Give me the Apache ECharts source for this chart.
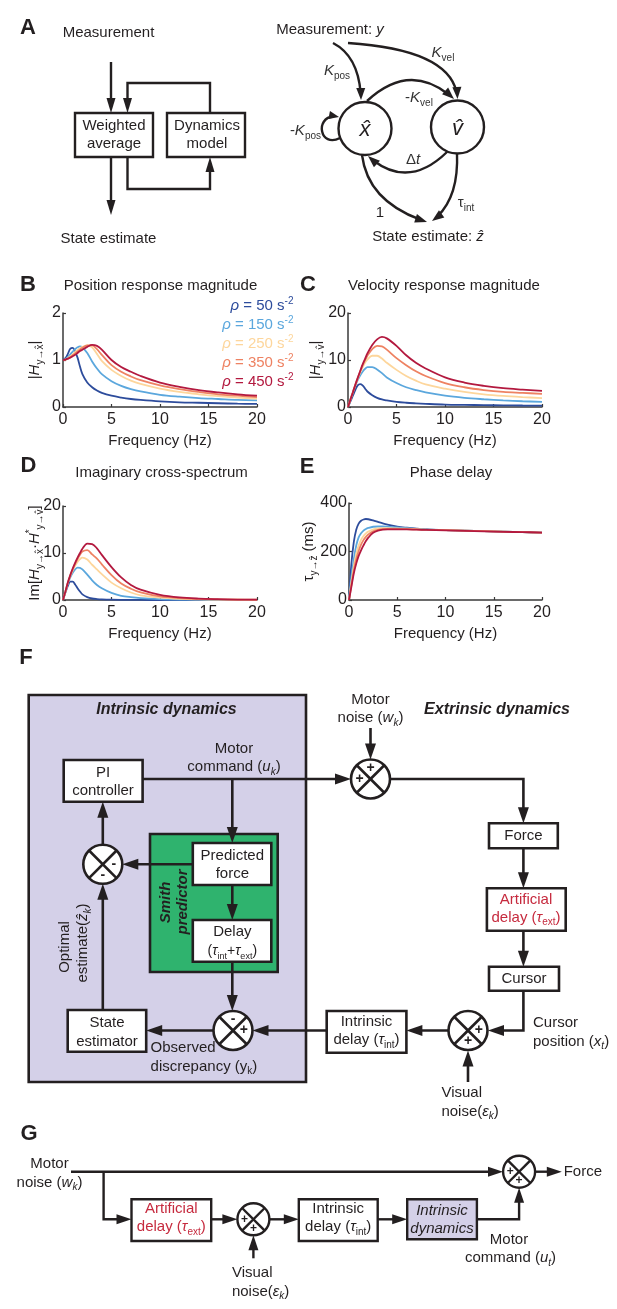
<!DOCTYPE html>
<html><head><meta charset="utf-8">
<script src="https://cdn.jsdelivr.net/npm/echarts@6/dist/echarts.min.js"></script>
<style>html,body{margin:0;padding:0;background:#fff}#c{width:617px;height:1309px}</style>
</head><body><div id="c"></div>
<script>
// ---------- data ----------
const freq = [0,0.25,0.5,0.75,1,1.25,1.5,1.75,2,2.5,3,3.5,4,5,6,7,8,10,12,14,16,18,20];
const rhoLabels = ['50','150','250','350','450'];
const lineColors = ['#2d4c9c','#5ba7dd','#fdd69c','#ee8262','#b3193f'];

const posMag = [
  [1.0,1.04,1.13,1.24,1.26,1.18,1.05,0.86,0.7,0.52,0.42,0.35,0.3,0.24,0.2,0.17,0.15,0.12,0.1,0.09,0.08,0.07,0.065],
  [1.0,1.02,1.06,1.12,1.18,1.23,1.27,1.29,1.27,1.15,0.97,0.82,0.7,0.55,0.45,0.38,0.33,0.26,0.22,0.19,0.17,0.15,0.14],
  [1.0,1.01,1.04,1.08,1.12,1.17,1.21,1.25,1.28,1.31,1.27,1.13,0.98,0.79,0.66,0.56,0.49,0.39,0.32,0.27,0.23,0.2,0.18],
  [1.0,1.01,1.03,1.06,1.1,1.14,1.18,1.22,1.26,1.31,1.31,1.23,1.11,0.89,0.75,0.65,0.57,0.46,0.38,0.32,0.27,0.24,0.21],
  [1.0,1.01,1.03,1.05,1.08,1.11,1.15,1.19,1.22,1.28,1.32,1.3,1.22,1.0,0.85,0.75,0.66,0.52,0.43,0.36,0.31,0.27,0.24]
];
const velMag = [
  [0,1.2,2.4,3.6,4.6,4.85,4.6,3.95,3.3,2.5,1.95,1.6,1.4,1.08,0.9,0.78,0.68,0.52,0.45,0.4,0.35,0.32,0.3],
  [0,1.55,3.1,4.5,5.7,6.7,7.5,8.1,8.5,8.5,8.0,7.2,6.3,5.1,4.2,3.6,3.1,2.4,1.95,1.65,1.4,1.22,1.1],
  [0,1.57,3.1,4.6,6.0,7.3,8.4,9.4,10.1,10.9,10.9,10.3,9.4,7.9,6.6,5.6,4.8,3.9,3.2,2.7,2.35,2.1,1.9],
  [0,1.57,3.1,4.7,6.1,7.5,8.8,9.9,10.9,12.3,13.0,12.9,12.2,10.4,8.9,7.6,6.6,5.1,4.2,3.6,3.2,3.0,2.8],
  [0,1.57,3.1,4.7,6.2,7.6,9.0,10.2,11.4,13.2,14.4,14.9,14.6,13.0,11.0,9.4,8.2,6.3,5.2,4.5,4.0,3.7,3.45]
];
const imagCross = [
  [0,1.6,3.0,3.9,3.9,3.3,2.5,1.8,1.2,0.6,0.32,0.2,0.13,0.06,0.03,0.02,0.01,0,0,0,0,0,0],
  [0,1.7,3.5,4.8,5.8,6.5,6.9,6.85,6.5,5.4,4.2,3.2,2.5,1.5,0.9,0.6,0.4,0.2,0.1,0.06,0.04,0.02,0.01],
  [0,1.7,3.6,5.1,6.3,7.3,8.1,8.7,9.0,8.6,7.5,6.5,5.5,3.7,2.5,1.6,1.0,0.5,0.25,0.14,0.08,0.05,0.03],
  [0,1.8,3.7,5.2,6.5,7.7,8.7,9.6,10.3,10.6,9.7,8.8,7.6,5.3,3.5,2.4,1.6,0.75,0.4,0.22,0.13,0.08,0.05],
  [0,1.8,3.7,5.3,6.7,7.9,9.0,10.0,10.9,12.0,11.9,11.0,9.6,7.0,4.8,3.2,2.2,1.1,0.55,0.3,0.18,0.1,0.06]
];
const phaseDelay = [
  [0,150,240,290,315,327,332,334,333,328,322,316,311,303,298,294,291,288,286,284,282,280,278],
  [0,95,170,225,258,275,286,293,297,302,303,303,302,299,296,293,291,288,286,284,282,280,278],
  [0,75,140,190,225,248,264,275,282,291,295,296,296,295,294,292,290,288,286,284,282,280,278],
  [0,62,122,168,202,228,247,260,270,283,289,292,293,293,292,291,290,288,286,284,282,280,278],
  [0,55,110,150,182,205,225,243,257,277,286,290,291,291,291,290,289,287,285,283,281,280,278]
];
const xTicks = {min:0, max:20, interval:5};
const yRanges = [{max:2, interval:1},{max:20, interval:10},{max:20, interval:10},{max:400, interval:200}];

// ---------- style helpers ----------
const FONT = 'Arial, "Liberation Sans", Helvetica, sans-serif';
const INK = '#231f20';
const RED = '#c62a3e';
const LAV = '#d4d0e8';
const GREEN = '#2fb36e';

function rs(size, color) {
  const sub = Math.round(size * 0.66);
  const base = {fontSize:size, fontFamily:FONT, color:color, fill:color, lineHeight:20};
  return {
    n: Object.assign({}, base),
    i: Object.assign({}, base, {fontStyle:'italic'}),
    s: {fontSize:sub, fontFamily:FONT, color:color, fill:color, verticalAlign:'bottom', lineHeight:10},
    si: {fontSize:sub, fontFamily:FONT, fontStyle:'italic', color:color, fill:color, verticalAlign:'bottom', lineHeight:10},
    p: {fontSize:sub, fontFamily:FONT, color:color, fill:color, verticalAlign:'top', lineHeight:10}
  };
}

const G = [];
function txt(x, y, text, o) {
  o = o || {};
  const size = o.size || 15, color = o.color || INK;
  G.push({type:'text', x:x, y:y, rotation:o.rot || 0, z:30, silent:true,
    style:{text:text, fill:color, fontSize:size, fontFamily:FONT,
      fontStyle:o.italic ? 'italic' : 'normal', fontWeight:o.bold ? 'bold' : 'normal',
      align:o.align || 'center', verticalAlign:'middle', lineHeight:20, rich:rs(size, color)}});
}
function poly(pts, w) {
  G.push({type:'polyline', shape:{points:pts}, z:10, silent:true,
    style:{stroke:INK, lineWidth:w, fill:null, lineJoin:'miter', lineCap:'butt'}});
}
function head(x, y, ang, L, W) {
  const bx = x - L * Math.cos(ang), by = y - L * Math.sin(ang);
  const px = -Math.sin(ang) * W / 2, py = Math.cos(ang) * W / 2;
  G.push({type:'polygon', z:11, silent:true, shape:{points:[[x, y],[bx + px, by + py],[bx - px, by - py]]}, style:{fill:INK}});
}
function arrow(pts, L, W, w) {
  const n = pts.length;
  const a = pts[n - 2], b = pts[n - 1];
  const ang = Math.atan2(b[1] - a[1], b[0] - a[0]);
  const p = pts.slice(0, n - 1).concat([[b[0] - L * 0.6 * Math.cos(ang), b[1] - L * 0.6 * Math.sin(ang)]]);
  poly(p, w);
  head(b[0], b[1], ang, L, W);
}
function lerp(p, q, t) { return [p[0] + (q[0] - p[0]) * t, p[1] + (q[1] - p[1]) * t]; }
function qArrow(p0, p1, p2, L, W, w, noHead) {
  if (noHead) {
    G.push({type:'bezierCurve', z:10, silent:true, shape:{x1:p0[0], y1:p0[1], x2:p2[0], y2:p2[1], cpx1:p1[0], cpy1:p1[1]}, style:{stroke:INK, lineWidth:w, fill:null}});
    return;
  }
  const d = Math.hypot(p2[0] - p1[0], p2[1] - p1[1]) * 2;
  const t = 1 - (L * 0.6) / d;
  const a = lerp(p0, p1, t), b = lerp(p1, p2, t), c = lerp(a, b, t);
  G.push({type:'bezierCurve', z:10, silent:true, shape:{x1:p0[0], y1:p0[1], x2:c[0], y2:c[1], cpx1:a[0], cpy1:a[1]}, style:{stroke:INK, lineWidth:w, fill:null}});
  head(p2[0], p2[1], Math.atan2(p2[1] - p1[1], p2[0] - p1[0]), L, W);
}
function cArrow(p0, p1, p2, p3, L, W, w) {
  const d = Math.hypot(p3[0] - p2[0], p3[1] - p2[1]) * 3;
  const t = 1 - (L * 0.6) / d;
  const a = lerp(p0, p1, t), b = lerp(p1, p2, t), c = lerp(p2, p3, t);
  const e = lerp(a, b, t), f = lerp(b, c, t), g = lerp(e, f, t);
  G.push({type:'bezierCurve', z:10, silent:true, shape:{x1:p0[0], y1:p0[1], x2:g[0], y2:g[1], cpx1:a[0], cpy1:a[1], cpx2:e[0], cpy2:e[1]}, style:{stroke:INK, lineWidth:w, fill:null}});
  head(p3[0], p3[1], Math.atan2(p3[1] - p2[1], p3[0] - p2[0]), L, W);
}
function box(x, y, w, h, fill, lw, z) {
  G.push({type:'rect', z:z || 15, silent:true, shape:{x:x, y:y, width:w, height:h}, style:{fill:fill || '#fff', stroke:INK, lineWidth:lw}});
}
function circ(cx, cy, r, lw) {
  G.push({type:'circle', z:15, silent:true, shape:{cx:cx, cy:cy, r:r}, style:{fill:'#fff', stroke:INK, lineWidth:lw}});
}
function sum(cx, cy, r, signs, lw, sz) {
  circ(cx, cy, r, lw);
  const d = r * 0.7071;
  G.push({type:'line', z:16, silent:true, shape:{x1:cx - d, y1:cy - d, x2:cx + d, y2:cy + d}, style:{stroke:INK, lineWidth:lw}});
  G.push({type:'line', z:16, silent:true, shape:{x1:cx - d, y1:cy + d, x2:cx + d, y2:cy - d}, style:{stroke:INK, lineWidth:lw}});
  const offs = {t:[0,-1], b:[0,1], l:[-1,0], r:[1,0]};
  signs.forEach(function (s) {
    const o = offs[s[0]];
    txt(cx + o[0] * r * 0.56, cy + o[1] * r * 0.56, s[1], {size:sz, bold:true});
  });
}

// ---------- panel letters & chart titles ----------
txt(28, 28, 'A', {size:22, bold:true});
txt(28, 285, 'B', {size:22, bold:true});
txt(308, 285, 'C', {size:22, bold:true});
txt(28.5, 466, 'D', {size:22, bold:true});
txt(307, 466.5, 'E', {size:22, bold:true});
txt(26, 657.5, 'F', {size:22, bold:true});
txt(29, 1134, 'G', {size:22, bold:true});
txt(160.5, 285.5, 'Position response magnitude');
txt(444, 285.5, 'Velocity response magnitude');
txt(161.5, 473, 'Imaginary cross-spectrum');
txt(451, 473, 'Phase delay');
rhoLabels.forEach(function (lab, k) {
  txt(293.5, 306 + k * 19, '{i|\u03c1} = ' + lab + ' s{p|-2}', {color:lineColors[k], align:'right'});
});

// ---------- panel A (left) ----------
const LA = 2.4;
txt(108.5, 33, 'Measurement');
arrow([[111, 62],[111, 113]], 15, 9, LA);
box(75, 113, 78, 44, '#fff', LA);
txt(114, 126, 'Weighted'); txt(114, 144, 'average');
box(167, 113, 78, 44, '#fff', LA);
txt(207, 126, 'Dynamics'); txt(207, 144, 'model');
arrow([[210, 113],[210, 83],[127.5, 83],[127.5, 113]], 15, 9, LA);
arrow([[127.5, 157],[127.5, 189],[210, 189],[210, 157]], 15, 9, LA);
arrow([[111, 157],[111, 215]], 15, 9, LA);
txt(108.5, 239, 'State estimate');

// ---------- panel A (right) ----------
txt(330, 30, 'Measurement: {i|y}');
circ(365, 128.5, 26.5, LA);
circ(457.5, 127, 26.5, LA);
txt(365, 130, 'x\u0302', {size:22, italic:true});
txt(457.5, 128.5, 'v\u0302', {size:22, italic:true});
qArrow([333, 43],[360, 57],[361, 100], 12, 9, LA);
qArrow([348, 43],[455, 50],[457.5, 99], 12, 9, LA);
qArrow([367, 101],[411, 60],[454, 99], 12, 9, LA);
qArrow([447, 152],[407, 191],[368, 156], 12, 9, LA);
cArrow([340, 138],[318, 149],[314, 112],[339, 117], 10, 8, LA);
qArrow([362, 155],[368, 203],[427, 222], 12, 9, LA);
qArrow([457, 153],[459, 201],[432, 221], 12, 9, LA);
txt(337, 71, '{i|K}{s|pos}', {color:'#333'});
txt(443, 53, '{i|K}{s|vel}', {color:'#333'});
txt(419, 98, '-{i|K}{s|vel}', {color:'#333'});
txt(413, 160, '\u0394{i|t}', {color:'#333'});
txt(321, 131, '-{i|K}{s|pos}', {color:'#333', align:'right'});
txt(380, 213, '1');
txt(466, 203, '\u03c4{s|int}', {color:'#333'});
txt(428, 237, 'State estimate: {i|\u1e91}');

// ---------- panel F ----------
const LF = 2.6, AFL = 16, AFW = 11;
box(28.7, 695, 277.3, 387, LAV, LF, 1);
box(150, 834, 127.7, 138, GREEN, LF, 2);
txt(166.5, 710, 'Intrinsic dynamics', {size:16, bold:true, italic:true});
txt(497, 710, 'Extrinsic dynamics', {size:16, bold:true, italic:true});
txt(370.5, 700, 'Motor'); txt(370.5, 718, 'noise ({i|w}{si|k})');
arrow([[370.5, 728],[370.5, 759.5]], AFL, AFW, LF);
sum(370.5, 779, 19.5, [['t','+'],['l','+']], LF, 14);
box(63.7, 760, 78.9, 41.7, '#fff', LF);
txt(103, 772.5, 'PI'); txt(103, 790.5, 'controller');
arrow([[142.6, 779],[351, 779]], AFL, AFW, LF);
txt(234, 749, 'Motor'); txt(234, 767, 'command ({i|u}{si|k})');
arrow([[390, 779],[523.4, 779],[523.4, 823.3]], AFL, AFW, LF);
box(489, 823.3, 68.8, 25, '#fff', LF);
txt(523.4, 836, 'Force');
arrow([[523.4, 848.3],[523.4, 888.3]], AFL, AFW, LF);
box(486.9, 888.3, 78.8, 42.4, '#fff', LF);
txt(526, 899.5, 'Artificial', {color:RED}); txt(526, 917.5, 'delay ({i|\u03c4}{s|ext})', {color:RED});
arrow([[523.4, 930.7],[523.4, 966.7]], AFL, AFW, LF);
box(489, 966.7, 70, 24, '#fff', LF);
txt(524, 979, 'Cursor');
arrow([[523.4, 990.7],[523.4, 1030.5],[488, 1030.5]], AFL, AFW, LF);
sum(468, 1030.5, 19.5, [['r','+'],['b','+']], LF, 14);
arrow([[468, 1082],[468, 1050.5]], AFL, AFW, LF);
txt(441.4, 1093.3, 'Visual', {align:'left'}); txt(441.4, 1111.7, 'noise({i|\u03b5}{si|k})', {align:'left'});
txt(533, 1023.3, 'Cursor', {align:'left'}); txt(533, 1041.7, 'position ({i|x}{si|t})', {align:'left'});
arrow([[448.5, 1030.5],[406.4, 1030.5]], AFL, AFW, LF);
box(326.7, 1011, 79.7, 41.7, '#fff', LF);
txt(366.5, 1021.7, 'Intrinsic'); txt(366.5, 1040, 'delay ({i|\u03c4}{s|int})');
arrow([[326.7, 1030.5],[252.5, 1030.5]], AFL, AFW, LF);
sum(233, 1030.5, 19.5, [['t','-'],['r','+']], LF, 14);
arrow([[213.5, 1030.5],[146.2, 1030.5]], AFL, AFW, LF);
box(67.7, 1010, 78.5, 41.7, '#fff', LF);
txt(107, 1023, 'State'); txt(107, 1041.5, 'estimator');
txt(150.6, 1048.3, 'Observed', {align:'left'}); txt(150.6, 1066.7, 'discrepancy (y{s|k})', {align:'left'});
txt(166, 902.5, 'Smith', {bold:true, italic:true, rot:Math.PI / 2});
txt(182.5, 902, 'predictor', {bold:true, italic:true, rot:Math.PI / 2});
arrow([[232.3, 779],[232.3, 843]], AFL, AFW, LF);
box(192.8, 843, 78.5, 42, '#fff', LF);
txt(232.3, 856, 'Predicted'); txt(232.3, 874, 'force');
arrow([[232.3, 885],[232.3, 920]], AFL, AFW, LF);
box(192.8, 920, 78.5, 41.7, '#fff', LF);
txt(232.3, 932.3, 'Delay'); txt(232.3, 951, '({i|\u03c4}{s|int}+{i|\u03c4}{s|ext})', {size:14});
arrow([[232.3, 961.7],[232.3, 1011]], AFL, AFW, LF);
sum(102.8, 864.3, 19.5, [['r','-'],['b','-']], LF, 14);
arrow([[192.8, 864.3],[122.3, 864.3]], AFL, AFW, LF);
arrow([[102.8, 844.8],[102.8, 801.7]], AFL, AFW, LF);
arrow([[102.8, 1010],[102.8, 883.8]], AFL, AFW, LF);
txt(64.5, 947, 'Optimal', {rot:Math.PI / 2});
txt(83, 943, 'estimate({i|\u1e91}{si|k})', {rot:Math.PI / 2});

// ---------- panel G ----------
const LG = 2.4, AGL = 15, AGW = 10;
txt(49.5, 1164, 'Motor'); txt(49.5, 1182.7, 'noise ({i|w}{si|k})');
arrow([[71, 1171.7],[503, 1171.7]], AGL, AGW, LG);
arrow([[103.6, 1171.7],[103.6, 1219.3],[131.5, 1219.3]], AGL, AGW, LG);
box(131.5, 1199.3, 79.7, 41.7, '#fff', LG);
txt(171.3, 1209.3, 'Artificial', {color:RED}); txt(171.3, 1227.3, 'delay ({i|\u03c4}{s|ext})', {color:RED});
arrow([[211.2, 1219.3],[237.4, 1219.3]], AGL, AGW, LG);
sum(253.4, 1219.3, 16, [['l','+'],['b','+']], LG, 12);
arrow([[253.4, 1258.3],[253.4, 1235.3]], AGL, AGW, LG);
txt(231.9, 1272.7, 'Visual', {align:'left'}); txt(231.9, 1291.7, 'noise({i|\u03b5}{si|k})', {align:'left'});
arrow([[269.4, 1219.3],[298.8, 1219.3]], AGL, AGW, LG);
box(298.8, 1199.3, 78.9, 41.7, '#fff', LG);
txt(338.2, 1209.3, 'Intrinsic'); txt(338.2, 1227.3, 'delay ({i|\u03c4}{s|int})');
arrow([[377.7, 1219.3],[407.2, 1219.3]], AGL, AGW, LG);
box(407.2, 1199.3, 69.7, 40, LAV, LG);
txt(442, 1210.7, 'Intrinsic', {italic:true}); txt(442, 1229.3, 'dynamics', {italic:true});
arrow([[476.9, 1219.3],[519.1, 1219.3],[519.1, 1187.7]], AGL, AGW, LG);
sum(519.1, 1171.7, 16, [['l','+'],['b','+']], LG, 12);
arrow([[535.1, 1171.7],[561.8, 1171.7]], AGL, AGW, LG);
txt(563.7, 1171.7, 'Force', {align:'left'});
txt(509, 1240, 'Motor'); txt(510.5, 1258.3, 'command ({i|u}{si|t})');

// ---------- charts ----------
const grids = [
  {left:63, top:313, width:194, height:94},
  {left:348, top:313, width:194, height:94},
  {left:63, top:506, width:194, height:94},
  {left:349, top:503, width:193, height:97}
];
const yNames = [
  '|{i|H}{s|y\u2192x\u0302}|',
  '|{i|H}{s|y\u2192v\u0302}|',
  'Im[{i|H}{s|y\u2192x\u0302}\u00b7{i|H}{p|*}{s|y\u2192v\u0302}]',
  '{n|\u03c4}{s|y\u2192\u1e91} (ms)'
];
const yGaps = [18, 22, 18, 30];
const dataSets = [posMag, velMag, imagCross, phaseDelay];

const axisLine = {show:true, onZero:false, lineStyle:{color:'#3a3a3a', width:1.5}};
const axisTick = {show:true, inside:true, length:3, lineStyle:{color:'#3a3a3a', width:1.2}};

const xAxes = grids.map(function (g, i) {
  return {gridIndex:i, type:'value', min:xTicks.min, max:xTicks.max, interval:xTicks.interval,
    name:'Frequency (Hz)', nameLocation:'middle', nameGap:26, nameMoveOverlap:false,
    nameTextStyle:{fontSize:15, color:INK, fontFamily:FONT},
    axisLine:axisLine, axisTick:axisTick, splitLine:{show:false},
    axisLabel:{fontSize:16, color:INK, fontFamily:FONT, margin:5}};
});
const yAxes = grids.map(function (g, i) {
  return {gridIndex:i, type:'value', min:0, max:yRanges[i].max, interval:yRanges[i].interval,
    name:yNames[i], nameLocation:'middle', nameRotate:90, nameGap:yGaps[i], nameMoveOverlap:false,
    nameTextStyle:Object.assign({fontSize:15, color:INK, fontFamily:FONT, lineHeight:20, rich:rs(15, INK)}),
    axisLine:axisLine, axisTick:axisTick, splitLine:{show:false},
    axisLabel:{fontSize:16, color:INK, fontFamily:FONT, margin:2, padding:[6,0,0,0]}};
});
const series = [];
dataSets.forEach(function (ds, i) {
  ds.forEach(function (vals, k) {
    series.push({type:'line', name:'rho=' + rhoLabels[k], xAxisIndex:i, yAxisIndex:i,
      data:freq.map(function (f, j) { return [f, vals[j]]; }),
      showSymbol:false, symbol:'none', smooth:0.35, z:2 + k, clip:true,
      lineStyle:{width:1.8, color:lineColors[k]}, itemStyle:{color:lineColors[k]}});
  });
});

const chart = echarts.init(document.getElementById('c'), null, {renderer:'canvas', width:617, height:1309});
chart.setOption({
  animation:false,
  backgroundColor:'#fff',
  grid:grids.map(function (g) { return Object.assign({containLabel:false, outerBoundsMode:'none'}, g); }),
  xAxis:xAxes,
  yAxis:yAxes,
  series:series,
  graphic:{elements:G}
});
</script></body></html>
